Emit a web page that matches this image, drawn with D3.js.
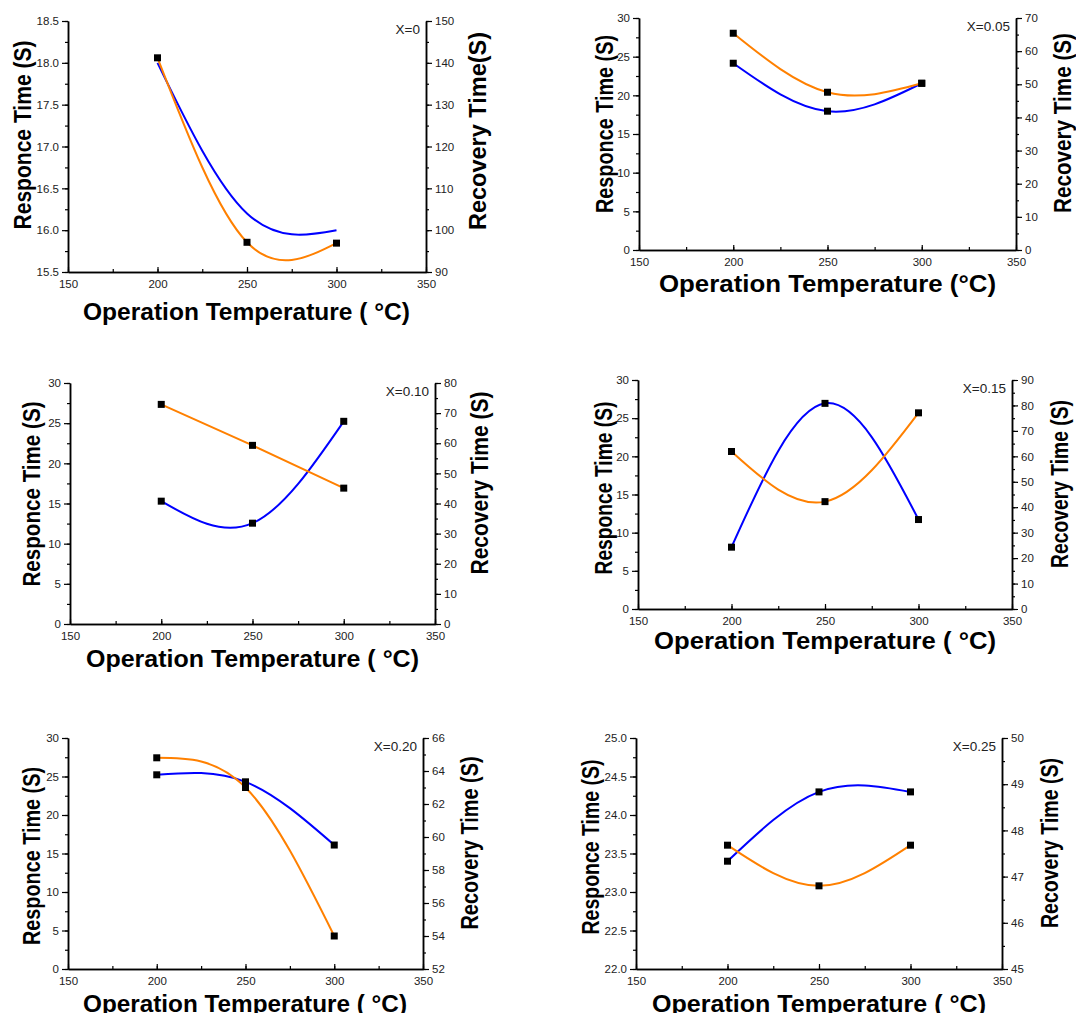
<!DOCTYPE html>
<html>
<head>
<meta charset="utf-8">
<script src="https://cdn.jsdelivr.net/npm/d3@7"></script>
<style>
  body { margin: 0; background: #fff; }
  svg { display: block; font-family: "Liberation Sans", Arial, sans-serif; }
  .tick text { fill: #222; font-size: 11.5px; }
</style>
</head>
<body>
<svg id="chart" width="1076" height="1013"></svg>
<script>
// Data: response (blue, left axis) and recovery (orange, right axis)
const temps = [200, 250, 300];
const xTicks = [150, 200, 250, 300, 350];
const compositions = ["X=0", "X=0.05", "X=0.10", "X=0.15", "X=0.20", "X=0.25"];

const responseTimes = [
    [18.0, 16.2, 16.0],
    [24.15, 17.95, 21.56],
    [15.29, 12.55, 25.23],
    [8.1, 26.94, 11.72],
    [25.22, 24.31, 16.1],
    [23.4, 24.3, 24.3]
];
const recoveryTimes = [
    [141.2, 97.1, 96.9],
    [65.4, 47.6, 50.3],
    [72.9, 59.3, 45.1],
    [61.9, 42.2, 77.1],
    [64.8, 63.0, 54.0],
    [47.68, 46.8, 47.68]
];
const showResponseMarkers = [false, true, true, true, true, true];

const responseDomains = [[15.5, 18.5], [0, 30], [0, 30], [0, 30], [0, 30], [22, 25]];
const recoveryDomains = [[90, 150], [0, 70], [0, 80], [0, 90], [52, 66], [45, 50]];
const responseSteps = [0.5, 5, 5, 5, 5, 0.5];
const recoverySteps = [10, 10, 10, 10, 2, 1];

const xLabels = [
    "Operation Temperature ( °C)", "Operation Temperature (°C)", "Operation Temperature ( °C)",
    "Operation Temperature ( °C)", "Operation Temperature ( °C)", "Operation Temperature ( °C)"
];
const yLabel = "Responce Time (S)";
const rLabels = ["Recovery Time(S)", "Recovery Time (S)", "Recovery Time (S)",
    "Recovery Time (S)", "Recovery Time (S)", "Recovery Time (S)"];

// Panel layout (pixel positions in the page)
const layout = [
    { l: 68, r: 426, t: 21, b: 272, yx: 31, yy: 135, yl: 189, rx: 486, ry: 131, rl: 198, x0: 83, x1: 410, xb: 320 },
    { l: 639, r: 1016, t: 18, b: 250, yx: 613, yy: 124, yl: 178, rx: 1071, ry: 123, rl: 180, x0: 659, x1: 996, xb: 292 },
    { l: 70, r: 435, t: 383, b: 624, yx: 40, yy: 494, yl: 185, rx: 488, ry: 483, rl: 183, x0: 86, x1: 419, xb: 667 },
    { l: 638, r: 1012, t: 380, b: 609, yx: 612, yy: 488, yl: 173, rx: 1068, ry: 484, rl: 168, x0: 654, x1: 996, xb: 649 },
    { l: 68, r: 423, t: 738, b: 969, yx: 40, yy: 856, yl: 178, rx: 478, ry: 843, rl: 173, x0: 83, x1: 407, xb: 1012 },
    { l: 636, r: 1002, t: 738, b: 969, yx: 599, yy: 847, yl: 175, rx: 1058, ry: 843, rl: 170, x0: 652, x1: 986, xb: 1012 }
];

const BLUE = '#0000ff';
const ORANGE = '#ff8000';

const svg = d3.select('#chart');

function ticksFor(domain, step) {
    return d3.range(domain[0], domain[1] + step / 1000, step);
}

function styleAxis(g) {
    g.select('.domain').attr('stroke', '#000').attr('stroke-width', 1.5);
    g.selectAll('.tick line').attr('stroke', '#000').attr('stroke-width', 1.2);
}

function drawPanel(i) {
    const p = layout[i];
    const g = svg.append('g');

    const x = d3.scaleLinear().domain([150, 350]).range([p.l, p.r]);
    const y = d3.scaleLinear().domain(responseDomains[i]).range([p.b, p.t]);
    const y2 = d3.scaleLinear().domain(recoveryDomains[i]).range([p.b, p.t]);

    const fmtL = responseSteps[i] < 1 ? d3.format('.1f') : d3.format('d');
    const yMajor = ticksFor(responseDomains[i], responseSteps[i]);
    const yMinor = ticksFor(responseDomains[i], responseSteps[i] / 2);
    const rMajor = ticksFor(recoveryDomains[i], recoverySteps[i]);
    const rMinor = ticksFor(recoveryDomains[i], recoverySteps[i] / 2);
    const xMinor = d3.range(150, 351, 25);

    // minor ticks
    g.append('g').attr('transform', `translate(${p.l},0)`)
        .call(d3.axisLeft(y).tickValues(yMinor).tickSize(3).tickSizeOuter(0).tickFormat(''))
        .call(styleAxis);
    g.append('g').attr('transform', `translate(${p.r},0)`)
        .call(d3.axisRight(y2).tickValues(rMinor).tickSize(3).tickSizeOuter(0).tickFormat(''))
        .call(styleAxis);
    g.append('g').attr('transform', `translate(0,${p.b})`)
        .call(d3.axisBottom(x).tickValues(xMinor).tickSize(-3).tickSizeOuter(0).tickFormat(''))
        .call(styleAxis);

    // major ticks
    g.append('g').attr('transform', `translate(${p.l},0)`)
        .call(d3.axisLeft(y).tickValues(yMajor).tickSize(6).tickPadding(3).tickSizeOuter(0).tickFormat(fmtL))
        .call(styleAxis);
    g.append('g').attr('transform', `translate(${p.r},0)`)
        .call(d3.axisRight(y2).tickValues(rMajor).tickSize(6).tickPadding(3).tickSizeOuter(0).tickFormat(d3.format('d')))
        .call(styleAxis);
    const xa = g.append('g').attr('transform', `translate(0,${p.b})`)
        .call(d3.axisBottom(x).tickValues(xTicks).tickSize(-5).tickSizeOuter(0).tickFormat(d3.format('d')))
        .call(styleAxis);
    xa.selectAll('.tick text').attr('y', 16).attr('dy', 0);

    // curves
    const lineL = d3.line().curve(d3.curveNatural).x((d, k) => x(temps[k])).y(d => y(d));
    const lineR = d3.line().curve(d3.curveNatural).x((d, k) => x(temps[k])).y(d => y2(d));

    g.append('path').datum(responseTimes[i]).attr('d', lineL)
        .attr('fill', 'none').attr('stroke', BLUE).attr('stroke-width', 2);
    g.append('path').datum(recoveryTimes[i]).attr('d', lineR)
        .attr('fill', 'none').attr('stroke', ORANGE).attr('stroke-width', 2);

    const s = 7;
    if (showResponseMarkers[i]) {
        g.selectAll('.mL').data(responseTimes[i]).enter().append('rect')
            .attr('x', (d, k) => x(temps[k]) - s / 2).attr('y', d => y(d) - s / 2)
            .attr('width', s).attr('height', s).attr('fill', '#000');
    }
    g.selectAll('.mR').data(recoveryTimes[i]).enter().append('rect')
        .attr('x', (d, k) => x(temps[k]) - s / 2).attr('y', d => y2(d) - s / 2)
        .attr('width', s).attr('height', s).attr('fill', '#000');

    // composition label
    g.append('text').attr('x', p.r - 6).attr('y', p.t + 13)
        .attr('text-anchor', 'end').attr('font-size', 13.5).attr('fill', '#222')
        .text(compositions[i]);

    // axis titles
    g.append('text')
        .attr('transform', `translate(${p.yx},${p.yy}) rotate(-90)`)
        .attr('text-anchor', 'middle').attr('font-size', 24).attr('font-weight', 'bold')
        .attr('textLength', p.yl).attr('lengthAdjust', 'spacingAndGlyphs')
        .text(yLabel);
    g.append('text')
        .attr('transform', `translate(${p.rx},${p.ry}) rotate(-90)`)
        .attr('text-anchor', 'middle').attr('font-size', 24).attr('font-weight', 'bold')
        .attr('textLength', p.rl).attr('lengthAdjust', 'spacingAndGlyphs')
        .text(rLabels[i]);
    g.append('text')
        .attr('x', p.x0).attr('y', p.xb)
        .attr('font-size', 23).attr('font-weight', 'bold')
        .attr('textLength', p.x1 - p.x0).attr('lengthAdjust', 'spacingAndGlyphs')
        .text(xLabels[i]);
}

compositions.forEach((c, i) => drawPanel(i));
</script>
</body>
</html>
